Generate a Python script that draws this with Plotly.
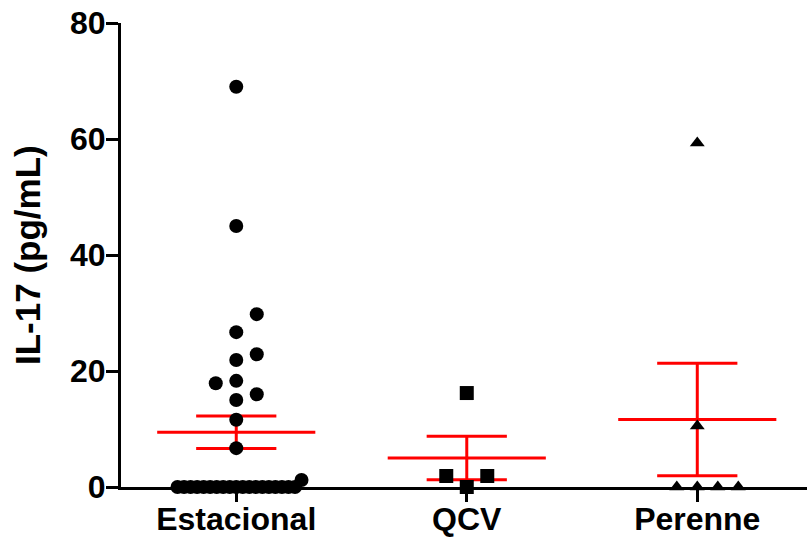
import numpy as np
import plotly.graph_objects as go

# ---- data ----
categories = ["Estacional", "QCV", "Perenne"]
estacional = [69.0, 45.0, 29.8, 26.7, 22.9, 21.9, 18.3, 17.9, 16.0, 15.0, 11.6, 6.7, 1.2,
              0.0, 0.0, 0.0, 0.0, 0.0, 0.0, 0.0, 0.0, 0.0, 0.0,
              0.0, 0.0, 0.0, 0.0, 0.0, 0.0, 0.0, 0.0, 0.0]
qcv = [16.2, 1.9, 1.9, 0.0]
perenne = [59.3, 10.5, 0.0, 0.0, 0.0, 0.0]
y_ticks = [0, 20, 40, 60, 80]
y_title = "IL-17 (pg/mL)"

groups = [estacional, qcv, perenne]
symbols = ["circle", "square", "triangle-up"]
msizes = [14, 14, 13]

# ---- layout geometry ----
W, H = 807, 537
ML, MR, MT, MB = 121, 0, 23, 50
x_range = [-0.5, 2.476]
y_range = [0, 80]
px_x = (W - ML - MR) / (x_range[1] - x_range[0])
px_y = (H - MT - MB) / (y_range[1] - y_range[0])
TITLE_CENTER_PX = 27  # horizontal centre of the rotated y title, from the left edge


def swarm_offsets(vals, step_px=20.5, row_px=18.0, half_width_px=62.0):
    """Simple beeswarm: offsets (in x data units) computed from values."""
    vals = np.asarray(vals, dtype=float)
    n = len(vals)
    ypx = vals * px_y
    offs = np.zeros(n)
    placed = []
    order = np.argsort(vals, kind="stable")
    for i in order:
        k = int(np.sum(np.abs(ypx - ypx[i]) < row_px))
        step = step_px if k <= 6 else 2 * half_width_px / (k - 1)
        x = 0.0
        for j in range(0, 2 * n + 2):
            m = ((j + 1) // 2) * (1 if j % 2 == 1 else -1)
            x = m * step
            ok = True
            for (qx, qy, qs) in placed:
                if abs(x - qx) < 0.95 * min(step, qs) and abs(ypx[i] - qy) < row_px:
                    ok = False
                    break
            if ok:
                break
        offs[i] = x / px_x
        placed.append((x, ypx[i], step))
    return offs


fig = go.Figure()

RED = "#ff0000"
mean_half = 0.343
whisk_half = 0.174

# mean +/- SEM lines (drawn first so markers sit on top)
for i, vals in enumerate(groups):
    v = np.asarray(vals, dtype=float)
    m = v.mean()
    s = v.std(ddof=1) / np.sqrt(len(v))
    xs = [i - mean_half, i + mean_half, None,
          i - whisk_half, i + whisk_half, None,
          i - whisk_half, i + whisk_half, None,
          i, i]
    ys = [m, m, None,
          m + s, m + s, None,
          m - s, m - s, None,
          m - s, m + s]
    fig.add_trace(go.Scatter(x=xs, y=ys, mode="lines",
                             line=dict(color=RED, width=3),
                             hoverinfo="skip", showlegend=False,
                             cliponaxis=False))

# points
for i, vals in enumerate(groups):
    offs = swarm_offsets(vals)
    fig.add_trace(go.Scatter(
        x=i + offs, y=vals, mode="markers",
        marker=dict(symbol=symbols[i], size=msizes[i], color="black",
                    line=dict(width=0)),
        showlegend=False, cliponaxis=False, name=categories[i]))

FONT = "Liberation Sans, Arial, Helvetica, sans-serif"

fig.update_layout(
    width=W, height=H,
    margin=dict(l=ML, r=MR, t=MT, b=MB, pad=0, autoexpand=False),
    paper_bgcolor="white", plot_bgcolor="white",
    font=dict(family=FONT, color="black"),
    showlegend=False,
    xaxis=dict(
        range=x_range, tickmode="array", tickvals=[0, 1, 2], ticktext=categories,
        showgrid=False, zeroline=False, showline=True, linecolor="black", linewidth=3,
        ticks="outside", ticklen=12, tickwidth=3, tickcolor="black",
        ticklabelstandoff=-10,
        tickfont=dict(family=FONT, size=32, color="black", weight="bold"),
        automargin=False, fixedrange=True,
    ),
    yaxis=dict(
        range=y_range, tickmode="array", tickvals=y_ticks,
        ticktext=[str(t) for t in y_ticks],
        showgrid=False, zeroline=False, showline=True, linecolor="black", linewidth=3,
        ticks="outside", ticklen=12, tickwidth=3, tickcolor="black",
        ticklabelstandoff=-6,
        tickfont=dict(family=FONT, size=32, color="black", weight="bold"),
        automargin=False, fixedrange=True,
    ),
    annotations=[dict(
        text=y_title, textangle=-90, showarrow=False,
        xref="paper", yref="paper",
        x=(TITLE_CENTER_PX - ML) / (W - ML - MR), y=0.5,
        xanchor="center", yanchor="middle",
        font=dict(family=FONT, size=35, color="black", weight="bold"),
    )],
)

fig.write_html("out.html",
               config={"displayModeBar": False},
               post_script="document.body.style.margin='0';document.body.style.overflow='hidden';")
